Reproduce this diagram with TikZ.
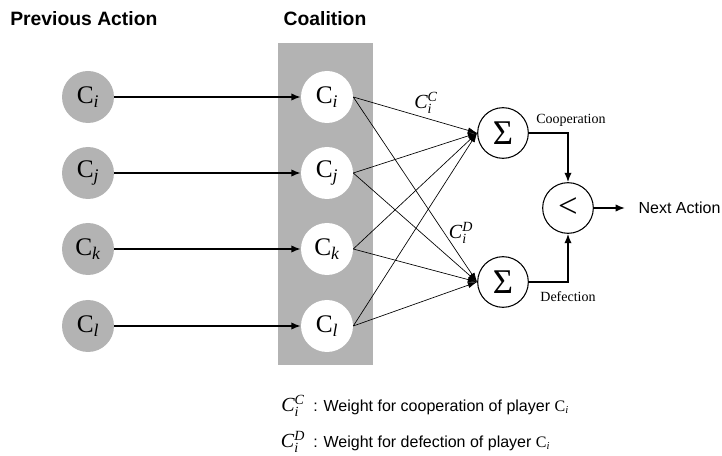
\documentclass[tikz,border=0pt]{standalone}
\usepackage{fontspec}
\setmainfont{Liberation Serif}
\setsansfont{Liberation Sans}
\usetikzlibrary{arrows.meta}
\definecolor{bandgray}{HTML}{B3B3B3}
\begin{document}
\begin{tikzpicture}[x=0.75pt,y=-0.75pt,
  prev/.style={circle,fill=bandgray,minimum size=39pt,inner sep=0pt,font=\fontsize{19}{19}\selectfont},
  member/.style={circle,fill=white,minimum size=39pt,inner sep=0pt,font=\fontsize{19}{19}\selectfont},
  op/.style={circle,draw,line width=0.8pt,minimum size=38pt,inner sep=0pt,font=\fontsize{26}{26}\selectfont},
  feed/.style={line width=1.1pt,-{Latex[length=7pt,width=5.5pt]}},
  weight/.style={line width=0.5pt,-{Latex[length=7pt,width=4.5pt]}},
  title/.style={font=\sffamily\bfseries\fontsize{14.5}{15}\selectfont,inner sep=0pt},
  small/.style={font=\fontsize{10.5}{11}\selectfont,inner sep=0pt},
  wlabel/.style={font=\fontsize{15}{15}\selectfont,inner sep=0pt},
  legend/.style={font=\sffamily\fontsize{12}{12}\selectfont,inner sep=0pt,anchor=west}]
  \useasboundingbox (0,0) rectangle (722,456);

  % headings
  \node[title,anchor=west] (hprev) at (10,19) {Previous Action};
  \node[title] (hcoal) at (325,19) {Coalition};

  % coalition band
  \fill[bandgray] (278,43) rectangle (373,365);

  % previous actions
  \node[prev] (pi) at (88,97)  {$\mathrm{C}_{\mathit{i}}$};
  \node[prev] (pj) at (88,173) {$\mathrm{C}_{\mathit{j}}$};
  \node[prev] (pk) at (88,249) {$\mathrm{C}_{\mathit{k}}$};
  \node[prev] (pl) at (88,326) {$\mathrm{C}_{\mathit{l}}$};

  % coalition members
  \node[member] (ci) at (327,97)  {$\mathrm{C}_{\mathit{i}}$};
  \node[member] (cj) at (327,173) {$\mathrm{C}_{\mathit{j}}$};
  \node[member] (ck) at (327,249) {$\mathrm{C}_{\mathit{k}}$};
  \node[member] (cl) at (327,326) {$\mathrm{C}_{\mathit{l}}$};

  % summation and comparison units
  \node[op] (su) at (503,133) {Σ};
  \node[op] (sd) at (503,282) {Σ};
  \node[op] (lt) at (568,208) {<};

  \foreach \a/\b in {pi/ci,pj/cj,pk/ck,pl/cl}
    \draw[feed] (\a) -- (\b);

  % weighted links
  \foreach \m in {ci,cj,ck,cl}{
    \draw[weight] (\m.east) -- (su.west);
    \draw[weight] (\m.east) -- (sd.west);
  }

  \node[wlabel] (wc) at (426,103) {$\mathit{C}_{\mathit{i}}^{\mathit{C}}$};
  \node[wlabel] (wd) at (461,233) {$\mathit{C}_{\mathit{i}}^{\mathit{D}}$};

  % comparison
  \draw[feed] (su.east) -| (lt.north);
  \draw[feed] (sd.east) -| (lt.south);
  \node[small] (coop) at (571,120) {Cooperation};
  \node[small] (defe) at (568,297) {Defection};

  \node[font=\sffamily\fontsize{12}{12}\selectfont,anchor=west,inner sep=0pt,inner xsep=10pt] (next) at (625,208) {Next Action};
  \draw[feed] (lt.east) -- (next.west);

  % legend
  \node[wlabel] (lc) at (293,406) {$\mathit{C}_{\mathit{i}}^{\mathit{C}}$};
  \node[legend] (lct) at (313,407) {: Weight for cooperation of player {\rmfamily C\textsubscript{\itshape i}}};
  \node[wlabel] (ld) at (293,442) {$\mathit{C}_{\mathit{i}}^{\mathit{D}}$};
  \node[legend] (ldt) at (313,443) {: Weight for defection of player {\rmfamily C\textsubscript{\itshape i}}};
\end{tikzpicture}
\end{document}
